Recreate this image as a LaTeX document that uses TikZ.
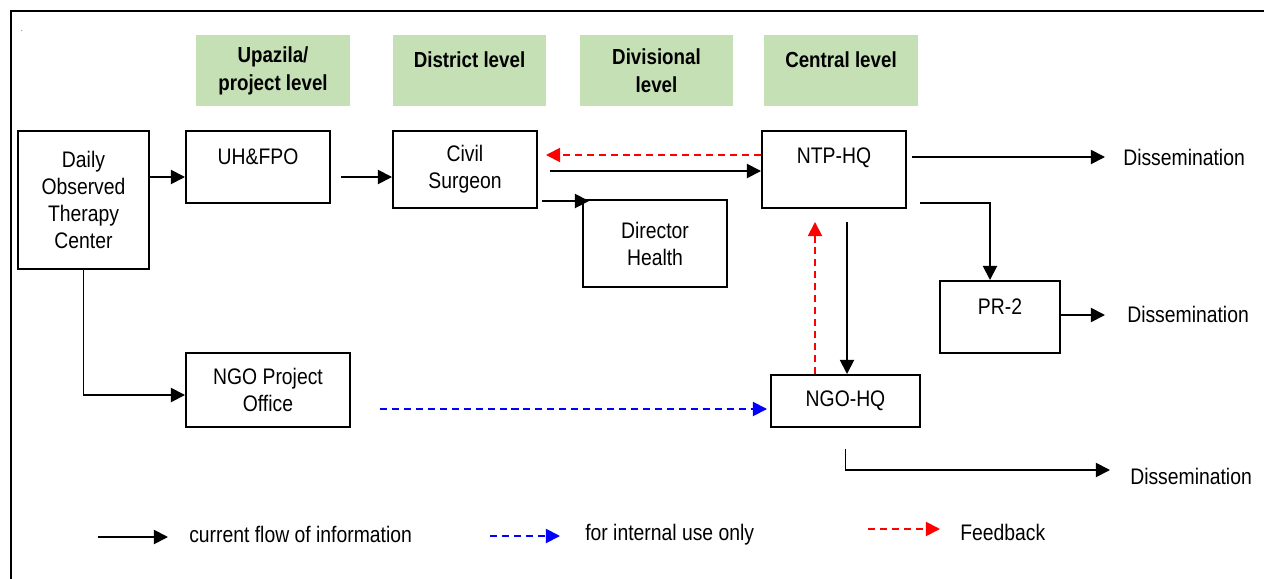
\documentclass[tikz,border=0pt]{standalone}
\usepackage{fontspec}
\setmainfont{Liberation Sans}[FakeStretch=0.86]
\usetikzlibrary{arrows.meta,calc}
\definecolor{levelgreen}{RGB}{197,224,180}
\begin{document}
\begin{tikzpicture}[x=0.025cm,y=-0.025cm,
  every node/.style={font=\fontsize{16}{19.2}\selectfont},
  box/.style={draw,line width=1.4pt,align=center,inner sep=0pt},
  sz/.style 2 args={minimum width=#1*0.025cm,minimum height=#2*0.025cm},
  lvl/.style={fill=levelgreen,align=center,inner sep=0pt,font=\fontsize{15.5}{20}\selectfont\bfseries},
  topset/.style={text height=12pt,text depth=#1},
  flow/.style={line width=1.3pt,-{Triangle[length=10pt,width=10pt]}},
  intern/.style={flow,blue,dash pattern=on 5pt off 3.5pt},
  fback/.style={flow,red,dash pattern=on 5pt off 3.5pt}]
\useasboundingbox (0,0) rectangle (1264,579);
%
\draw[line width=2pt] (11,579) -- (11,11) -- (1264,11);
\node[font=\tiny,inner sep=0pt] (dot) at (22,31) {.};
%
% levels
\node[lvl,sz={154}{71}] (upz) at (273,70.5) {Upazila/\\project level};
\node[lvl,sz={153}{71},topset=16pt] (dist) at (469.5,70.5) {District level};
\node[lvl,sz={153}{71}] (divl) at (656.5,70.5) {Divisional\\level};
\node[lvl,sz={154}{71},topset=16pt] (cent) at (841,70.5) {Central level};
%
% offices
\node[box,sz={131}{138}] (dotc) at (83.5,200) {Daily\\Observed\\Therapy\\Center};
\node[box,sz={144}{72},topset=15pt] (uh) at (258,167) {UH\&FPO};
\node[box,sz={144}{77}] (cs) at (465,169.5) {Civil\\Surgeon};
\node[box,sz={144}{87}] (dh) at (655,243.5) {Director\\Health};
\node[box,sz={144}{77},topset=20pt] (ntp) at (834,169.5) {NTP-HQ};
\node[box,sz={120}{72},topset=16pt] (pr) at (1000,317) {PR-2};
\node[box,sz={164}{74}] (npo) at (268,390) {NGO Project\\Office};
\node[box,sz={149}{52}] (ngo) at (845.5,401) {NGO-HQ};
%
\node[anchor=west,inner sep=0pt] (d1) at (1123,157) {Dissemination};
\node[anchor=west,inner sep=0pt] (d2) at (1127,314) {Dissemination};
\node[anchor=west,inner sep=0pt] (d3) at (1130,476) {Dissemination};
%
% flows
\draw[flow] (dotc.east|-0,177) -- (uh.west|-0,177);
\draw[flow] ($(uh.east|-0,177)+(10,0)$) -- (cs.west|-0,177);
\draw[flow] ($(cs.east|-0,171)+(12,0)$) -- (ntp.west|-0,171);
\draw[fback] (ntp.west|-0,155) -- ($(cs.east|-0,155)+(8,0)$);
\draw[flow] ($(cs.east|-0,201)+(4,0)$) -- ($(dh.north west|-0,201)+(7,0)$);
\draw[flow] ($(ntp.east|-0,157)+(5,0)$) -- ($(d1.west)+(-18,0)$);
\draw[flow] ($(ntp.east|-0,203)+(13,0)$) -| ($(pr.north)+(-10,0)$);
\draw[flow] ($(ngo.north|-ntp.south)+(1.5,13)$) -- ($(ngo.north)+(1.5,0)$);
\draw[fback] ($(ngo.north)+(-30.5,0)$) -- ($(ngo.north|-ntp.south)+(-30.5,13)$);
\draw[flow] (pr.east|-0,315) -- ($(d2.west)+(-22,1)$);
\draw[flow] ($(ngo.south)+(0,21)$) |- ($(d3.west)+(-20,-6)$);
\draw[flow] (dotc.south) |- ($(npo.west)+(0,5)$);
\draw[intern] ($(npo.east|-0,409)+(29,0)$) -- ($(ngo.west|-0,409)+(-3,0)$);
%
% legend
\coordinate (lg1) at (98,537);
\coordinate (lg2) at (490,536);
\coordinate (lg3) at (868,529);
\node[anchor=west,inner sep=0pt] (lgt1) at (189,534) {current flow of information};
\node[anchor=west,inner sep=0pt] (lgt2) at (585,535) {for internal use only};
\node[anchor=west,inner sep=0pt] (lgt3) at (960,532) {Feedback};
\draw[flow] (lg1) -- ($(lgt1.west)+(-21,3)$);
\draw[intern] (lg2) -- ($(lgt2.west)+(-25,1)$);
\draw[fback] (lg3) -- ($(lgt3.west)+(-20,-3)$);
\end{tikzpicture}
\end{document}
